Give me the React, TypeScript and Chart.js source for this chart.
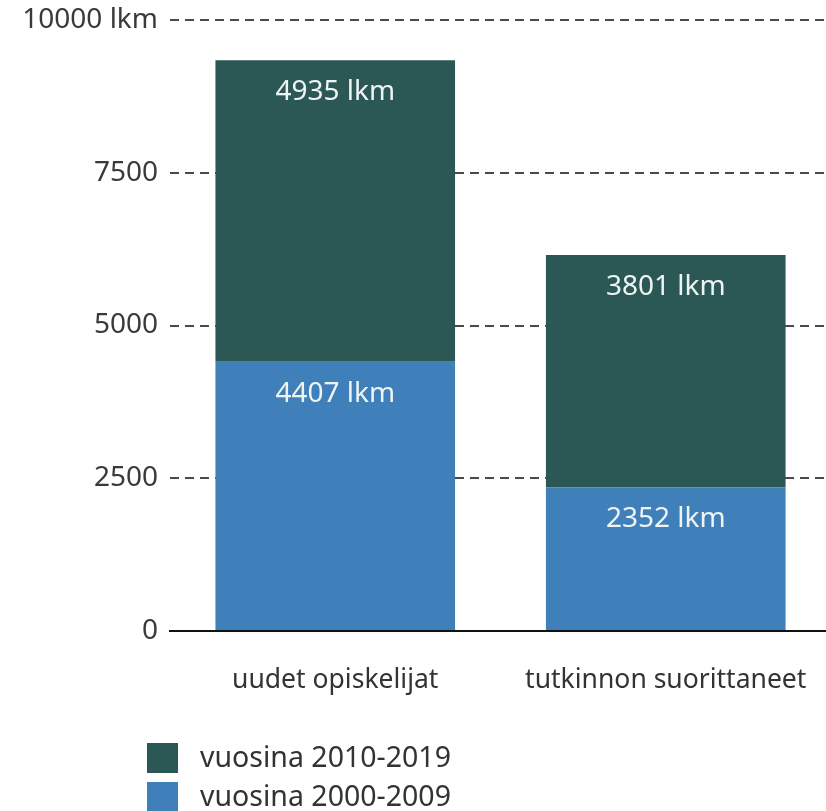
import React, { useEffect, useRef } from "react";
import { Chart, registerables } from "chart.js";

Chart.register(...registerables);

const categories = ["uudet opiskelijat", "tutkinnon suorittaneet"];
const series2000 = [4407, 2352];
const series2010 = [4935, 3801];
const seriesLabels = ["vuosina 2000-2009", "vuosina 2010-2019"];
const yTicks = [0, 2500, 5000, 7500, 10000];

const BLUE = "#3f7fba";
const GREEN = "#2b5854";
const FONT = "'Noto Sans', 'Open Sans', sans-serif";

const labelPlugin = {
  id: "segLabels",
  afterDatasetsDraw(chart: any) {
    const ctx = chart.ctx;
    ctx.save();
    ctx.fillStyle = "#eef4f4";
    ctx.font = `28px ${FONT}`;
    ctx.textAlign = "center";
    ctx.textBaseline = "middle";
    chart.data.datasets.forEach((ds: any, di: number) => {
      const meta = chart.getDatasetMeta(di);
      meta.data.forEach((bar: any, i: number) => {
        ctx.fillText(`${ds.data[i]} lkm`, bar.x, bar.y + 32);
      });
    });
    ctx.restore();
  },
};

const legendPlugin = {
  id: "customLegend",
  afterDraw(chart: any) {
    const ctx = chart.ctx;
    ctx.save();
    const items = [
      { label: seriesLabels[1], color: GREEN },
      { label: seriesLabels[0], color: BLUE },
    ];
    ctx.font = `28.5px ${FONT}`;
    ctx.textBaseline = "middle";
    ctx.textAlign = "left";
    items.forEach((it, k) => {
      const y = 743 + k * 39;
      ctx.fillStyle = it.color;
      ctx.fillRect(147, y, 31, 30);
      ctx.fillStyle = "#333333";
      ctx.fillText(it.label, 200, y + 16);
    });
    ctx.restore();
  },
};

export default function App() {
  const ref = useRef<HTMLCanvasElement>(null);
  useEffect(() => {
    document.body.style.margin = "0";
    const chart = new Chart(ref.current as HTMLCanvasElement, {
      type: "bar",
      data: {
        labels: categories,
        datasets: [
          { label: seriesLabels[0], data: series2000, backgroundColor: BLUE, barPercentage: 0.725, categoryPercentage: 1 },
          { label: seriesLabels[1], data: series2010, backgroundColor: GREEN, barPercentage: 0.725, categoryPercentage: 1 },
        ],
      },
      options: {
        animation: false,
        responsive: true,
        maintainAspectRatio: false,
        layout: { padding: { top: 20, right: 0, left: 0, bottom: 0 } },
        plugins: { legend: { display: false }, tooltip: { enabled: false } },
        scales: {
          x: {
            stacked: true,
            grid: { display: false, drawTicks: false },
            border: { display: true, color: "#111111", width: 2 },
            ticks: { color: "#333333", font: { size: 26.5, family: FONT }, padding: 34 },
            afterFit: (s: any) => {
              s.height = 180;
              s.paddingLeft = 0;
              s.paddingRight = 0;
            },
          },
          y: {
            stacked: true,
            min: 0,
            max: 10000,
            afterBuildTicks: (s: any) => { s.ticks = yTicks.map((v) => ({ value: v })); },
            grid: {
              drawTicks: false,
              lineWidth: 2,
              color: (c: any) => (c.tick && c.tick.value === 0 ? "rgba(0,0,0,0)" : "#4a4a4a"),
            },
            border: { display: false, dash: [9, 6] },
            ticks: {
              color: "#3a3a3a",
              font: { size: 28, family: FONT },
              padding: 12,
              callback: (v: any) => (v === 10000 ? "10000 lkm" : String(v)),
            },
            afterFit: (s: any) => {
              s.width = 170;
              s.paddingTop = 0;
              s.paddingBottom = 0;
            },
          },
        },
      },
      plugins: [labelPlugin, legendPlugin],
    });
    return () => chart.destroy();
  }, []);
  return (
    <div style={{ position: "absolute", left: 0, top: 0, width: 826, height: 811, overflow: "hidden", background: "#fff" }}>
      <div style={{ position: "relative", width: 831, height: 811 }}>
        <canvas ref={ref} />
      </div>
    </div>
  );
}
